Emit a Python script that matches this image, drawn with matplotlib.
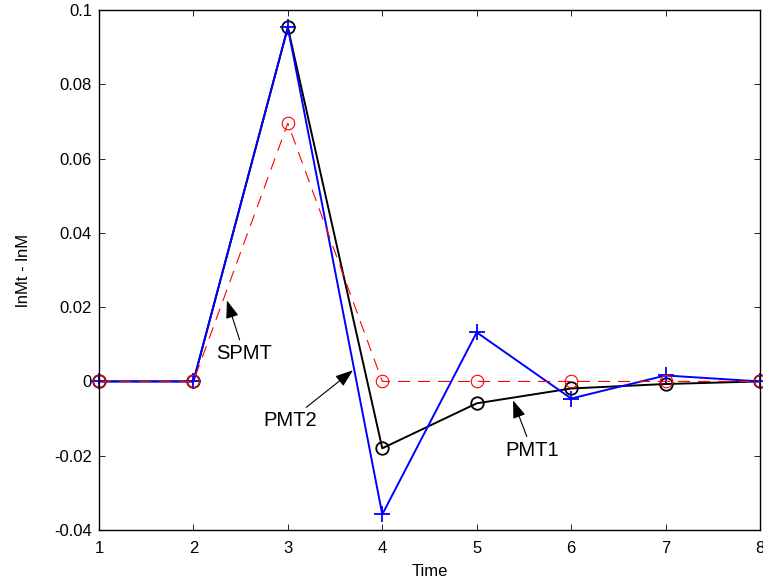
import matplotlib
matplotlib.use("Agg")
import matplotlib.pyplot as plt

plt.rcParams['font.family'] = ['Liberation Sans', 'DejaVu Sans']

time = [1, 2, 3, 4, 5, 6, 7, 8]
pmt1 = [0, 0, 0.0953, -0.0180, -0.0059, -0.0019, -0.0007, 0]
pmt2 = [0, 0, 0.0953, -0.0358, 0.0132, -0.0046, 0.0016, 0]
spmt = [0, 0, 0.0695, 0, 0, 0, 0, 0]

xticks = [1, 2, 3, 4, 5, 6, 7, 8]
yticks = [-0.04, -0.02, 0, 0.02, 0.04, 0.06, 0.08, 0.1]
ytick_labels = ['-0.04', '-0.02', '0', '0.02', '0.04', '0.06', '0.08', '0.1']

fig = plt.figure(figsize=(7.63, 5.85), dpi=100)
ax = fig.add_axes([0.1297, 0.094, 0.8664, 0.889])

ax.plot(time, pmt1, color='black', lw=1.4, marker='o', ms=9, mfc='none', mew=1.3, clip_on=False)
ax.plot(time, pmt2, color='#0000ff', lw=1.4, marker='+', ms=11, mew=1.3, clip_on=False)
ax.plot(time, spmt, color='red', lw=0.8, ls=(0, (10.8, 7.2)), marker='o', ms=9, mfc='none', mew=0.8, clip_on=False)

ax.set_xlim(1, 8)
ax.set_ylim(-0.04, 0.1)
ax.set_xticks(xticks)
ax.set_yticks(yticks)
ax.set_yticklabels(ytick_labels)
ax.tick_params(direction='in', length=4.5, width=0.6, top=True, right=True, labelsize=12, pad=5)
ax.tick_params(axis='x', pad=8)
for s in ax.spines.values():
    s.set_linewidth(1.0)

ax.set_xlabel('Time', fontsize=12, labelpad=6)
ax.set_ylabel('lnMt - lnM', fontsize=12, labelpad=17)

arr = dict(arrowstyle='-|>,head_length=0.75,head_width=0.27', color='black', lw=0.8, shrinkA=1, shrinkB=0)
ax.annotate('SPMT', xy=(2.355, 0.0218), xytext=(2.536, 0.0075), fontsize=14.5,
            ha='center', va='center', arrowprops=arr)
ax.annotate('PMT2', xy=(3.69, 0.0030), xytext=(3.02, -0.0105), fontsize=14.5,
            ha='center', va='center', arrowprops=arr)
ax.annotate('PMT1', xy=(5.385, -0.0051), xytext=(5.585, -0.0185), fontsize=14.5,
            ha='center', va='center', arrowprops=arr)

fig.savefig('out.png', dpi=100)
